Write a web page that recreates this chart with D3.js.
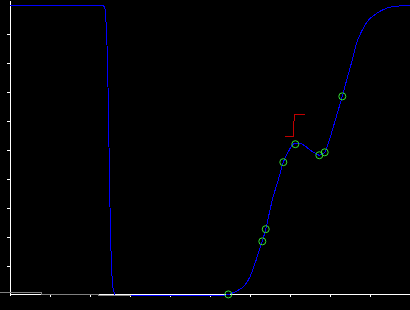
<!DOCTYPE html>
<html>
<head>
<meta charset="utf-8">
<script src="https://cdn.jsdelivr.net/npm/d3@7"></script>
<style>
  html, body { margin: 0; padding: 0; background: #000; }
  svg { display: block; }
</style>
</head>
<body>
<div class="chart"></div>
<script>
// Chart data
//= ================================
var blueX = [0, 2.32, 2.35, 2.375, 2.4, 2.425, 2.45, 2.475, 2.5, 2.525, 2.55, 2.575, 2.6, 2.625,
  5.4, 5.458, 5.583, 5.75, 5.875, 6.0, 6.125, 6.25, 6.308, 6.393, 6.5, 6.558, 6.708, 6.833,
  6.958, 7.042, 7.133, 7.25, 7.375, 7.5, 7.625, 7.733, 7.867, 7.958, 8.083, 8.183, 8.308,
  8.417, 8.542, 8.667, 8.792, 8.958, 9.167, 9.417, 9.667, 10];
var blueY = [1, 1, 0.995, 0.986, 0.941, 0.862, 0.717, 0.51, 0.303, 0.152, 0.066, 0.024, 0.01, 0,
  0, 0.002, 0.008, 0.02, 0.034, 0.063, 0.109, 0.161, 0.185, 0.227, 0.293, 0.328, 0.397, 0.458,
  0.494, 0.514, 0.523, 0.523, 0.514, 0.5, 0.489, 0.482, 0.492, 0.523, 0.58, 0.627, 0.685,
  0.741, 0.803, 0.869, 0.91, 0.947, 0.971, 0.989, 0.996, 0.998];

// faint grey trace near the baseline
var grayX = [-0.25, 0.775, 0.775, 2.2, 2.2, 3.025];
var grayY = [0.009, 0.009, 0.003, 0.003, 0, 0];

// marked points
var markX = [5.458, 6.308, 6.393, 6.833, 7.133, 7.733, 7.867, 8.308];
var markY = [0.002, 0.185, 0.227, 0.458, 0.52, 0.482, 0.492, 0.685];

// red step marker
var redX = [6.875, 7.083, 7.108, 7.375];
var redY = [0.545, 0.545, 0.624, 0.624];

var xTicks = [1, 2, 3, 4, 5, 6, 7, 8, 9];
var yTicks = [0.1, 0.2, 0.3, 0.4, 0.5, 0.6, 0.7, 0.8, 0.9];

// Step 0: Set up our chart
//= ================================
var svgWidth = 410;
var svgHeight = 310;

var svg = d3
  .select(".chart")
  .append("svg")
  .attr("width", svgWidth)
  .attr("height", svgHeight)
  .style("background", "#000");

var xScale = d3.scaleLinear().domain([0, 10]).range([10, 410]);
var yScale = d3.scaleLinear().domain([0, 1]).range([295, 5]);
// the left axis line runs up to the top edge
var yAxisScale = d3.scaleLinear().domain([0, yScale.invert(0)]).range([295, 0]);

var bottomAxis = d3.axisBottom(xScale).tickValues(xTicks).tickSize(3).tickSizeOuter(0).tickFormat("");
var leftAxis = d3.axisLeft(yAxisScale).tickValues(yTicks).tickSize(3).tickSizeOuter(0).tickFormat("");

var xAxisG = svg.append("g")
  .attr("transform", "translate(0,294)")
  .call(bottomAxis);

var yAxisG = svg.append("g")
  .attr("transform", "translate(10,0)")
  .call(leftAxis);

svg.selectAll(".domain, .tick line")
  .attr("stroke", "#fff")
  .attr("stroke-width", 1)
  .attr("shape-rendering", "crispEdges");

function toPoints(xs, ys) {
  return xs.map(function(x, i) { return [x, ys[i]]; });
}

var lineGen = d3.line()
  .x(function(d) { return xScale(d[0]); })
  .y(function(d) { return yScale(d[1]); });

// main blue curve
svg.append("path")
  .datum(toPoints(blueX, blueY))
  .attr("fill", "none")
  .attr("stroke", "#0000ff")
  .attr("stroke-width", 1)
  .attr("shape-rendering", "crispEdges")
  .attr("d", lineGen.curve(d3.curveMonotoneX));

// grey trace
svg.append("path")
  .datum(toPoints(grayX, grayY))
  .attr("fill", "none")
  .attr("stroke", "#808080")
  .attr("stroke-width", 1)
  .attr("shape-rendering", "crispEdges")
  .attr("d", lineGen.curve(d3.curveLinear));

// green circles on the curve
svg.selectAll("circle.mark")
  .data(toPoints(markX, markY))
  .enter()
  .append("circle")
  .attr("class", "mark")
  .attr("cx", function(d) { return xScale(d[0]); })
  .attr("cy", function(d) { return yScale(d[1]); })
  .attr("r", 3.5)
  .attr("fill", "none")
  .attr("stroke", "#33dd33")
  .attr("stroke-width", 1);

// red marker
svg.append("path")
  .datum(toPoints(redX, redY))
  .attr("fill", "none")
  .attr("stroke", "#c00000")
  .attr("stroke-width", 1)
  .attr("shape-rendering", "crispEdges")
  .attr("d", lineGen.curve(d3.curveLinear));
</script>
</body>
</html>
